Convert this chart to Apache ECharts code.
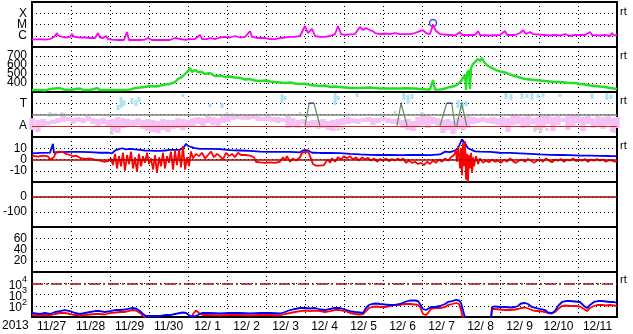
<!DOCTYPE html>
<html><head><meta charset="utf-8">
<script src="https://cdn.jsdelivr.net/npm/echarts@6/dist/echarts.min.js"></script>
<style>html,body{margin:0;padding:0;background:#fff}#c{width:633px;height:334px}</style>
</head><body><div id="c"></div>
<script>
// time axis: hours since 2013-11-27 00:00 (0..360)
const dateLabels = ['11/27','11/28','11/29','11/30','12/ 1','12/ 2','12/ 3','12/ 4','12/ 5','12/ 6','12/ 7','12/ 8','12/ 9','12/10','12/11'];
const yearLabel = '2013';
const xrayClassTicks = {10:'C',100:'M',1000:'X'};   // flux in units of 1e-7 W/m2
const statusTicks = {0:'A',1:'T'};

// X-ray flux [hour, flux (1e-7 W/m2)]
const xray = [[0,4.6],[4.9,5.1],[8,4.6],[11.1,5.1],[12.9,7],[14.2,9.5],[15.4,17.5],[16,10.5],[18.5,7.8],[20.9,7],[23.4,7.8],[24.6,14.2],[25.8,7.8],[29.5,7],[32.6,7],[35.7,6.3],[38.8,6.3],[40.6,17.5],[41.8,7],[43.7,6.3],[45.5,9.5],[46.8,5.1],[49.2,4.6],[52.9,4.2],[56.6,4.2],[58.5,21.5],[59.7,4.2],[66.5,4.2],[69.5,4.6],[71.4,6.3],[73.8,4.2],[84.9,4.2],[88,6.3],[89.2,4.2],[94.2,4.2],[97.2,5.1],[100.3,5.1],[103.4,11.7],[104.6,5.1],[107.7,5.1],[109.5,6.3],[112.6,5.1],[115.7,7],[118.8,7.8],[121.8,7],[124.9,9.5],[128,7],[131.1,7.8],[134.2,26],[135.4,7.8],[139.1,6.3],[143.4,6.3],[146.5,5.1],[149.5,5.1],[152.6,6.3],[155.7,7],[158.8,7.8],[161.8,7.8],[164.9,9.5],[168,74],[169.8,17.5],[172.3,40],[174.2,9.5],[177.2,7.8],[180.3,7.8],[183.4,9.5],[186.5,14.2],[188.3,74],[190.2,14.2],[192.6,11.7],[195.7,13],[198.8,14.2],[201.8,60],[203.7,32],[205.5,49],[208,32],[209.8,26],[211.1,17.5],[214.2,14.2],[217.2,15.8],[220.3,14.2],[223.4,17.5],[226.5,14.2],[232.6,14.2],[235.7,17.5],[238.8,26],[240.6,32],[242.5,17.5],[244.9,14.2],[246.8,90],[248.6,26],[251.1,14.2],[257.2,11.7],[260.3,10.5],[263.4,21.5],[264.6,11.7],[272.6,11.7],[274.5,26],[275.7,11.7],[281.8,10.5],[288,11.7],[291.1,26],[292.3,11.7],[297.2,11.7],[300.3,17.5],[302.2,32],[304,14.2],[306.5,21.5],[308.3,14.2],[315.7,11.7],[318.8,10.5],[321.8,11.7],[324.9,10.5],[328,14.2],[331.1,9.5],[334.2,11.7],[340.3,11.7],[343.4,21.5],[344.6,11.7],[349.5,10.5],[352.6,11.7],[355.7,9.5],[356.9,17.5],[358.2,10.5],[360,11.7]];
const flare = [[246.8,136]];

// Solar wind speed [hour, km/s]
const wind = [[0,322],[4.9,322],[8,317],[11.1,333],[14.2,339],[17.2,344],[19.7,328],[23.4,322],[27.1,333],[29.5,339],[31.4,322],[35.7,322],[40,344],[41.8,322],[48,322],[54.2,322],[60.3,326],[63.4,344],[66.5,350],[69.5,356],[72.6,367],[75.7,361],[78.8,370],[81.8,383],[84.9,389],[88,411],[89.8,444],[92.3,467],[94.2,500],[96,533],[97.2,567],[98.5,522],[100.3,544],[102.2,522],[104.6,522],[106.5,500],[109.5,511],[112.6,478],[115.7,483],[118.8,467],[121.8,472],[124.9,461],[128,456],[131.1,439],[134.2,444],[137.2,428],[140.3,422],[143.4,428],[146.5,417],[149.5,411],[152.6,406],[155.7,400],[158.8,406],[161.8,394],[164.9,389],[168,394],[171.1,378],[174.2,372],[177.2,367],[180.3,372],[183.4,356],[186.5,361],[189.5,356],[192.6,350],[195.7,344],[201.8,344],[208,350],[214.2,339],[220.3,339],[226.5,339],[229.5,341],[235.7,339],[238.8,333],[241.9,330],[244.9,328],[246.8,433],[248,328],[251.1,326],[254.2,339],[257.2,356],[260.3,367],[262.2,389],[264,422],[265.2,456],[266.5,489],[267.1,322],[267.7,511],[268.9,544],[269.5,333],[270.2,567],[271.4,611],[272.6,633],[274.5,667],[275.7,644],[276.9,678],[278.2,633],[279.4,611],[280.6,589],[281.8,578],[283.7,561],[285.5,544],[288,528],[291.1,517],[294.2,494],[297.2,478],[300.3,461],[303.4,444],[306.5,439],[309.5,433],[312.6,428],[315.7,422],[318.8,417],[321.8,411],[324.9,411],[328,406],[331.1,400],[334.2,400],[337.2,389],[340.3,383],[343.4,372],[346.5,367],[349.5,361],[352.6,356],[355.7,344],[360,333]];

// Status panel (A = 0, T = 1): [hour, low, high]
const pinkBand = [[0,-0.19,0.34],[3.7,-0.28,0.26],[6.8,-0.01,0.30],[9.8,0.03,0.21],[12.9,0.08,0.26],[16,0.12,0.34],[19.1,0.17,0.43],[22.2,0.21,0.39],[25.2,0.08,0.34],[28.3,0.17,0.39],[31.4,0.12,0.34],[34.5,0.21,0.43],[37.5,0.08,0.34],[40.6,-0.01,0.30],[43.7,0.08,0.34],[46.8,-0.06,0.26],[49.8,-0.23,0.30],[52.9,-0.32,0.39],[56,-0.10,0.34],[59.1,-0.06,0.30],[62.2,-0.01,0.26],[65.2,0.03,0.34],[68.3,-0.14,0.26],[71.4,-0.23,0.30],[74.5,-0.28,0.26],[77.5,-0.32,0.21],[80.6,-0.19,0.30],[83.7,-0.28,0.26],[86.8,-0.14,0.26],[89.8,-0.10,0.34],[92.9,-0.19,0.30],[96,-0.06,0.26],[99.1,-0.01,0.34],[102.2,0.08,0.39],[105.2,-0.01,0.34],[108.3,0.12,0.43],[111.4,0.03,0.39],[114.5,-0.01,0.34],[117.5,0.12,0.43],[120.6,0.17,0.48],[123.7,0.26,0.43],[126.8,0.30,0.48],[129.8,0.26,0.43],[132.9,0.26,0.48],[136,0.30,0.52],[139.1,0.21,0.43],[142.2,0.21,0.39],[145.2,0.21,0.43],[148.3,0.17,0.39],[151.4,0.12,0.39],[154.5,0.17,0.34],[157.5,-0.10,0.43],[160.6,-0.01,0.34],[163.7,-0.10,0.26],[166.8,0.08,0.30],[169.8,-0.10,0.21],[172.9,-0.06,0.26],[176,-0.14,0.26],[179.1,-0.10,0.30],[182.2,-0.19,0.21],[185.2,-0.23,0.26],[188.3,-0.01,0.30],[191.4,0.03,0.34],[194.5,0.08,0.39],[197.5,0.12,0.34],[200.6,0.08,0.30],[203.7,0.17,0.34],[206.8,0.17,0.39],[209.8,0.03,0.34],[212.9,0.12,0.34],[216,0.21,0.39],[219.1,0.12,0.34],[222.2,0.08,0.30],[225.2,0.03,0.34],[228.3,-0.10,0.26],[231.4,-0.19,0.30],[234.5,-0.23,0.21],[237.5,-0.06,0.39],[240.6,0.03,0.48],[243.7,-0.10,0.43],[246.8,0.08,0.39],[249.8,-0.06,0.34],[252.9,-0.32,0.26],[256,-0.19,0.30],[259.1,-0.37,0.21],[262.2,-0.14,0.34],[265.2,-0.19,0.39],[268.3,-0.10,0.43],[271.4,0.08,0.39],[274.5,0.12,0.34],[277.5,0.17,0.39],[280.6,0.12,0.34],[283.7,0.08,0.39],[286.8,0.03,0.34],[289.8,-0.01,0.39],[292.9,-0.28,0.34],[296,0.03,0.48],[299.1,0.08,0.43],[302.2,-0.10,0.39],[305.2,-0.01,0.48],[308.3,0.08,0.34],[311.4,-0.19,0.39],[314.5,-0.10,0.43],[317.5,0.08,0.48],[320.6,-0.23,0.39],[323.7,0.03,0.43],[326.8,0.17,0.34],[329.8,-0.19,0.43],[332.9,-0.06,0.48],[336,0.12,0.43],[339.1,-0.23,0.39],[342.2,0.08,0.48],[345.2,-0.10,0.34],[348.3,-0.01,0.43],[351.4,-0.14,0.39],[354.5,0.03,0.48],[357.5,-0.28,0.34],[360,-0.10,0.39]];
const cyanBand = [[52.9,0.70,0.92],[54.8,0.79,1.28],[56.6,0.88,1.14],[61.5,0.97,1.23],[64,0.88,1.14],[65.8,1.06,1.28],[92.9,1.28,1.41],[109.5,0.83,0.97],[116.9,0.79,1.01],[153.8,1.01,1.41],[155.7,1.14,1.32],[186.5,0.92,1.46],[188.3,1.14,1.32],[200,1.28,1.46],[228.9,1.14,1.46],[231.4,0.97,1.37],[233.9,1.19,1.41],[262.2,0.79,1.14],[264.6,0.70,1.05],[267.1,0.88,1.10],[291.7,1.19,1.46],[294.8,1.14,1.41],[301.5,1.19,1.46],[304.6,1.23,1.41],[307.7,1.14,1.46],[311.4,1.23,1.41],[314.5,1.28,1.46],[324.9,1.28,1.41],[344.6,1.19,1.46],[353.8,1.14,1.46],[356.3,1.19,1.37]];
const grayBand = [[11.1,0.39,0.61],[14.2,0.43,0.57],[18.5,0.43,0.61],[49.2,-0.41,-0.01],[51.7,-0.32,-0.06],[120,0.39,0.61],[123.1,0.43,0.57],[164.9,0.43,0.61],[188.3,-0.23,-0.01],[190.8,-0.19,-0.06],[223.4,0.52,0.66],[240,0.43,0.61],[309.5,-0.28,-0.06],[313.2,-0.32,-0.01],[316.9,-0.23,-0.10],[358.2,-0.32,-0.06]];
const events = [[168,0],[170.6,1],[173.5,1],[177.2,0],[177.3,'-'],[224.6,0],[227.1,1],[227.7,1],[230.8,0],[230.9,'-'],[251.1,0],[255.2,1],[258.3,1],[260.3,0],[260.4,'-'],[261.4,0],[264.4,1],[265,1],[267.5,0]];
const eventTops = [[170.6,1],[173.5,1],[173.6,'-'],[227.1,1],[227.7,1],[227.8,'-'],[255.2,1],[258.3,1],[258.4,'-'],[264.4,1],[265,1]];

// IMF Bt and Bz [hour, nT]
const bt = [[0,5.5],[4.9,5.8],[11.1,6.2],[12.3,6],[12.9,14],[13.5,6],[17.2,6.5],[23.4,6.7],[29.5,6.7],[35.7,6.5],[41.8,6],[46.8,6.2],[49.2,5.5],[51.1,8],[52.9,9],[55.4,10],[57.8,9],[60.3,9.5],[63.4,9],[66.5,8.5],[69.5,8],[72.6,7.8],[75.7,7.6],[78.8,7.6],[81.8,8],[84.9,8.5],[88,8.5],[91.1,8.6],[93.5,11],[94.8,14],[96,12],[97.2,10.5],[100.3,10.2],[103.4,9.5],[109.5,9.5],[115.7,9.3],[121.8,8.4],[128,8],[134.2,7.6],[140.3,7],[146.5,6.8],[152.6,6.7],[158.8,6.7],[164.9,6.4],[166.8,8],[169.8,8],[172.3,6],[177.2,5.8],[183.4,5.8],[189.5,5.6],[195.7,5],[201.8,4.5],[208,4.2],[214.2,4],[220.3,4],[226.5,3.8],[232.6,4],[238.8,4],[244.9,3.8],[251.1,4.5],[254.2,7],[257.2,6.5],[260.3,8],[262.2,10],[263.4,14],[264.6,18],[265.8,17],[267.1,13],[268.3,10],[269.5,8.4],[272.6,7.2],[275.7,7],[281.8,6.7],[288,6],[294.2,5.8],[300.3,5.4],[306.5,5],[312.6,4.5],[318.8,4.2],[324.9,4],[331.1,3.8],[337.2,3.5],[343.4,3.5],[349.5,3.3],[355.7,3.1],[360,3]];
const bz = [[0,3.5],[3.7,2.5],[6.8,3.5],[9.8,2.8],[11.1,0],[12.3,-1.5],[13.5,2],[14.8,6.5],[17.2,7],[19.1,6.5],[20.9,5],[23.4,4],[25.2,2.8],[27.1,3.5],[29.5,1.5],[32.6,0.5],[35.7,1],[38.8,-0.4],[41.8,-1],[44.3,-2],[46.8,-1.5],[48.6,1],[49.8,-5],[51.1,5],[52.3,-8],[53.5,3],[54.8,-6],[56,6],[57.2,-10],[58.5,4],[59.7,-4],[60.9,7],[62.2,-8],[63.4,2],[64.6,-11],[65.8,5],[67.1,-6],[68.3,3],[69.5,-3],[70.8,6],[72,-4],[73.2,1],[74.5,-9],[75.7,4],[76.9,-12],[78.2,2],[79.4,-6],[80.6,6],[81.8,-8],[83.1,3],[84.3,-3],[85.5,7],[86.8,-9],[88,8],[89.2,-5],[90.5,9],[91.7,-7],[92.9,12],[94.2,-9],[95.4,2],[96.6,-6],[97.8,7],[99.1,1],[100.9,5],[102.8,3],[104.6,6],[106.5,1],[108.3,4],[110.2,7],[112,2],[113.8,5],[115.7,3],[117.5,0],[119.4,6],[121.2,3],[123.1,5],[124.9,2],[126.8,6],[128.6,4],[131.1,4],[134.2,3.5],[136.6,2],[137.8,-2],[140.3,-2.5],[143.4,-3],[146.5,-2.5],[149.5,-3],[152.6,-2],[154.5,2],[155.7,-1],[156.9,3],[158.8,-2],[160.6,1],[162.5,-1],[164.9,2],[166.2,6],[168,6.5],[169.8,7],[171.1,3],[172.9,-4],[174.8,-5.5],[177.2,-5.5],[179.7,-5],[180.9,-2],[182.2,0],[183.4,-3],[184.6,1],[186.5,-2],[188.3,2],[190.2,0],[192,3],[193.8,1],[195.7,3],[197.5,0],[199.4,2],[201.2,-1],[203.1,2],[204.9,0],[206.8,1.5],[208.6,-1],[210.5,1],[212.3,-2],[214.2,0.5],[216,-1],[217.8,1],[219.7,-1.5],[221.5,0.5],[223.4,-1],[225.2,1],[226.5,-1],[228.3,1],[230.2,-3],[232,-1],[233.9,-3],[235.7,-2],[237.5,-4],[239.4,-3],[241.2,-5],[243.1,-2],[244.9,-4],[246.8,-1],[248.6,-3],[250.4,0],[252.3,-2],[254.2,1],[256,-1],[257.8,2],[259.7,4],[260.9,8],[261.5,-2],[262.2,12],[262.8,4],[263.4,-8],[264,10],[264.6,-14],[265.2,15],[265.8,-6],[266.5,16],[267.1,-18],[267.7,5],[268.3,-20],[268.9,4],[269.5,-8],[270.2,6],[270.8,-12],[271.4,2],[272,-6],[273.2,3],[274.5,-4],[275.7,1],[277.5,-3],[279.4,-1],[281.2,-2.5],[283.1,0],[284.9,-2],[286.8,-1],[288.6,-3],[290.5,0],[292.3,-2],[294.2,1],[296,-1.5],[297.8,-3],[299.7,-1],[301.5,0],[303.4,-2],[305.2,0.5],[307.1,-1],[308.9,-3],[310.8,-1],[312.6,0],[314.5,-2],[316.3,1],[318.2,-1],[320,-2.5],[321.8,0],[323.7,-1],[325.5,0.5],[327.4,-2],[329.2,0],[331.1,-1],[332.9,1],[334.8,-1.5],[336.6,0],[338.5,-1],[340.3,0.5],[342.2,-2],[344,0],[345.8,-1],[347.7,0.5],[349.5,-1],[351.4,0],[353.2,-2],[355.1,-0.5],[356.9,-1],[358.8,-2],[360,-1]];

// Electron flux [hour, flux]
const eBlue = [[0,22.7],[4.9,18.5],[8,22.7],[11.1,18.5],[14.2,27.8],[17.2,34],[20.3,41.8],[23.4,34],[26.5,22.7],[29.5,18.5],[32.6,22.7],[35.7,27.8],[38.8,34],[41.8,34],[44.9,27.8],[48,34],[51.1,41.8],[54.2,41.8],[57.2,46.4],[59.1,51.5],[61.5,63],[64,57],[66.5,34],[68.3,18.5],[70.2,12.3],[72.6,12.3],[75.7,12.3],[78.8,12.3],[81.8,15],[84.9,15],[88,18.5],[91.1,22.7],[92.9,25.1],[94.8,22.7],[97.2,12.3],[99.7,11.1],[102.2,15],[104.6,22.7],[109.5,22.7],[115.7,20.4],[121.8,22.7],[128,22.7],[134.2,20.4],[140.3,22.7],[146.5,22.7],[152.6,20.4],[155.7,27.8],[158.8,41.8],[161.8,51.5],[164.9,63],[168,63],[171.1,57],[174.2,63],[177.2,46.4],[180.3,41.8],[183.4,51.5],[186.5,63],[189.5,63],[192.6,46.4],[195.7,34],[198.8,27.8],[201.8,25.1],[203.7,22.7],[205.5,63],[207.4,117],[209.2,143],[211.7,158],[214.2,143],[217.2,129],[220.3,117],[223.4,117],[226.5,143],[229.5,216],[232.6,293],[235.7,293],[237.5,264],[238.8,143],[240.6,51.5],[242.5,41.8],[243.7,51.5],[245.5,77.5],[248,77.5],[251.1,95],[254.2,143],[256,216],[258.5,264],[260.9,325],[262.8,293],[264,175],[265.2,41.8],[266.5,8],[267,'-'],[282.5,8],[283.1,77.5],[284.9,86],[288,77.5],[291.1,77.5],[294.2,70],[297.2,77.5],[299.1,95],[300.9,158],[303.4,175],[305.2,143],[307.7,77.5],[310.2,63],[312.6,51.5],[315.7,41.8],[317.5,25.1],[320,22.7],[321.8,34],[323.7,95],[326.2,216],[328.6,264],[331.1,264],[334.2,239],[337.2,216],[339.7,95],[341.5,63],[343.4,117],[345.8,216],[348.3,264],[350.8,264],[353.2,239],[355.7,216],[358.2,216],[360,175]];
const eRed = [[0,15],[4.9,13.6],[8,15],[11.1,13.6],[14.2,18.5],[17.2,22.7],[20.3,22.7],[23.4,18.5],[26.5,15],[29.5,13.6],[32.6,15],[35.7,16.7],[38.8,18.5],[41.8,18.5],[44.9,16.7],[48,22.7],[51.1,25.1],[54.2,27.8],[57.2,27.8],[59.1,34],[61.5,41.8],[64,37.8],[66.5,22.7],[68.3,12.3],[70.2,9],[71,'-'],[98.5,9],[99.1,18.5],[100.9,37.8],[102.8,22.7],[105.2,15],[109.5,15],[115.7,13.6],[121.8,15],[128,15],[134.2,13.6],[140.3,15],[146.5,15],[152.6,13.6],[155.7,18.5],[158.8,22.7],[161.8,27.8],[164.9,34],[168,37.8],[171.1,34],[174.2,37.8],[177.2,34],[180.3,27.8],[183.4,34],[186.5,41.8],[189.5,41.8],[192.6,34],[195.7,22.7],[198.8,18.5],[201.8,16.7],[203.7,18.5],[205.5,34],[207.4,63],[209.2,77.5],[211.7,86],[214.2,77.5],[217.2,77.5],[220.3,95],[223.4,117],[226.5,117],[229.5,143],[232.6,143],[235.7,129],[237.5,117],[238.8,77.5],[240.6,18.5],[242.5,15],[243.7,22.7],[245.5,51.5],[248,63],[251.1,63],[254.2,77.5],[256,117],[258.5,143],[260.9,175],[262.8,143],[264,41.8],[265.2,8],[266,'-'],[282.5,8],[283.1,51.5],[284.9,51.5],[288,46.4],[291.1,41.8],[294.2,41.8],[297.2,46.4],[299.1,51.5],[300.9,63],[303.4,70],[305.2,57],[307.7,41.8],[310.2,34],[312.6,34],[315.7,27.8],[317.5,22.7],[320,20.4],[321.8,27.8],[323.7,51.5],[326.2,95],[328.6,105],[331.1,95],[334.2,95],[337.2,86],[339.7,51.5],[341.5,34],[343.4,63],[345.8,95],[348.3,117],[350.8,117],[353.2,105],[355.7,117],[358.2,105],[360,95]];

const FONT = 'Liberation Sans, Arial, sans-serif';
const panelTops = [2, 47, 92, 137, 182, 227, 272];
const dotted = {color:'#000', type:[1,3], width:1};

const grids = panelTops.map(t => ({left:32, width:585, top:t, height:45, show:true, borderColor:'#000', borderWidth:2, backgroundColor:'transparent'}));
const xAxes = panelTops.map((t,i) => ({type:'value', gridIndex:i, min:0, max:360, interval:24,
  axisLine:{show:false}, axisTick:{show:false}, axisLabel:{show:false}, splitLine:{show:true, lineStyle:dotted}}));
xAxes.push({type:'category', gridIndex:6, data:dateLabels, boundaryGap:true, position:'bottom',
  axisLine:{show:false}, axisTick:{show:false}, splitLine:{show:false},
  axisLabel:{interval:0, color:'#000', fontSize:12, fontFamily:FONT, margin:4}});

const lab = {color:'#000', fontSize:12, fontFamily:FONT, margin:5};
function yv(i, extra){ return Object.assign({gridIndex:i, axisLine:{show:false}, axisTick:{show:false}, splitLine:{show:true, lineStyle:dotted}}, extra); }
const yAxes = [
  yv(0,{type:'log', logBase:10, min:1, max:10000, axisLabel:Object.assign({}, lab, {formatter:v => xrayClassTicks[Math.round(v)] || ''})}),
  yv(1,{type:'value', min:300, max:800, interval:100, axisLabel:Object.assign({}, lab, {formatter:v => (v>300 && v<800) ? String(v) : ''})}),
  yv(2,{type:'value', min:-0.5, max:1.5, interval:0.5, axisLabel:Object.assign({}, lab, {formatter:v => statusTicks[v] !== undefined ? statusTicks[v] : ''})}),
  yv(3,{type:'value', min:-20, max:20, interval:10, axisLabel:Object.assign({}, lab, {formatter:v => (v>-20 && v<20) ? String(v) : ''})}),
  yv(4,{type:'value', min:-200, max:100, interval:100, axisLabel:Object.assign({}, lab, {formatter:v => (v>-200 && v<100) ? String(v) : ''})}),
  yv(5,{type:'value', min:0, max:80, interval:20, axisLabel:Object.assign({}, lab, {formatter:v => (v>0 && v<80) ? String(v) : ''})}),
  yv(6,{type:'log', logBase:10, min:10, max:100000, axisLabel:Object.assign({}, lab, {
     formatter:v => { const e = Math.round(Math.log10(v)); return (e>=2 && e<=4) ? '{n|10}{s|' + e + '}' : ''; },
     rich:{n:{fontSize:12, fontFamily:FONT, color:'#000', lineHeight:16, verticalAlign:'bottom'}, s:{fontSize:9, fontFamily:FONT, color:'#000', lineHeight:16, verticalAlign:'top'}}})})
];

function band(color, w){
  return function(params, api){
    const x = api.value(0);
    const a = api.coord([x, api.value(1)]);
    const b = api.coord([x, api.value(2)]);
    return {type:'rect', shape:{x:a[0]-w/2, y:b[1], width:w, height:Math.max(1, a[1]-b[1])}, style:{fill:color}};
  };
}
function line(i, data, color, width, extra){
  return Object.assign({type:'line', xAxisIndex:i, yAxisIndex:i, data:data, showSymbol:false, symbol:'none', clip:true,
    lineStyle:{color:color, width:width}, itemStyle:{color:color}, animation:false, silent:true}, extra || {});
}
function hline(value, color, width, type){ return {yAxis:value, lineStyle:{color:color, width:width, type:type || 'solid'}}; }
const mlBase = {silent:true, symbol:'none', label:{show:false}, animation:false};

const series = [
  line(0, xray, '#ff00ff', 1.8),
  {type:'scatter', xAxisIndex:0, yAxisIndex:0, data:flare, symbol:'circle', symbolSize:7,
   itemStyle:{color:'rgba(0,0,0,0)', borderColor:'#1a1aff', borderWidth:1.5}, silent:true, animation:false},
  line(1, wind, '#22e022', 2.4),
  {type:'custom', xAxisIndex:2, yAxisIndex:2, data:grayBand, renderItem:band('#d4d4d4', 3), encode:{x:0, y:[1,2]}, silent:true, animation:false},
  {type:'custom', xAxisIndex:2, yAxisIndex:2, data:pinkBand, renderItem:band('#f6c0f4', 5.4), encode:{x:0, y:[1,2]}, silent:true, animation:false,
   markLine:Object.assign({}, mlBase, {data:[hline(0.5, '#808080', 1.5), hline(0, '#d02828', 1)]})},
  {type:'custom', xAxisIndex:2, yAxisIndex:2, data:cyanBand, renderItem:band('#ace2f2', 3), encode:{x:0, y:[1,2]}, silent:true, animation:false},
  line(2, events, '#5b8f5b', 1.2),
  line(2, eventTops, '#3c3cd0', 1.4),
  line(3, bt, '#0000ff', 1.8, {markLine:Object.assign({}, mlBase, {data:[hline(0, '#b00000', 1.5)]})}),
  line(3, bz, '#ff0000', 1.8),
  {type:'line', xAxisIndex:4, yAxisIndex:4, data:[], silent:true, animation:false,
   markLine:Object.assign({}, mlBase, {data:[hline(0, '#a00000', 1.5)]})},
  {type:'line', xAxisIndex:5, yAxisIndex:5, data:[], silent:true, animation:false},
  line(6, eRed, '#ff0000', 1.8, {markLine:Object.assign({}, mlBase, {data:[hline(10000, '#a01010', 1.5, [11,3,2,3])]})}),
  line(6, eBlue, '#0000ff', 1.8)
];

const rtTops = [6, 50, 95, 140, 274];
const graphics = rtTops.map(t => ({type:'text', left:620, top:t, style:{text:'rt', font:'11px ' + FONT, fill:'#000'}}));
graphics.push({type:'text', left:2, top:320, style:{text:yearLabel, font:'12px ' + FONT, fill:'#000'}});

const chart = echarts.init(document.getElementById('c'), null, {renderer:'canvas'});
chart.setOption({animation:false, backgroundColor:'#fff', grid:grids, xAxis:xAxes, yAxis:yAxes, series:series, graphic:graphics});
</script>
</body></html>
